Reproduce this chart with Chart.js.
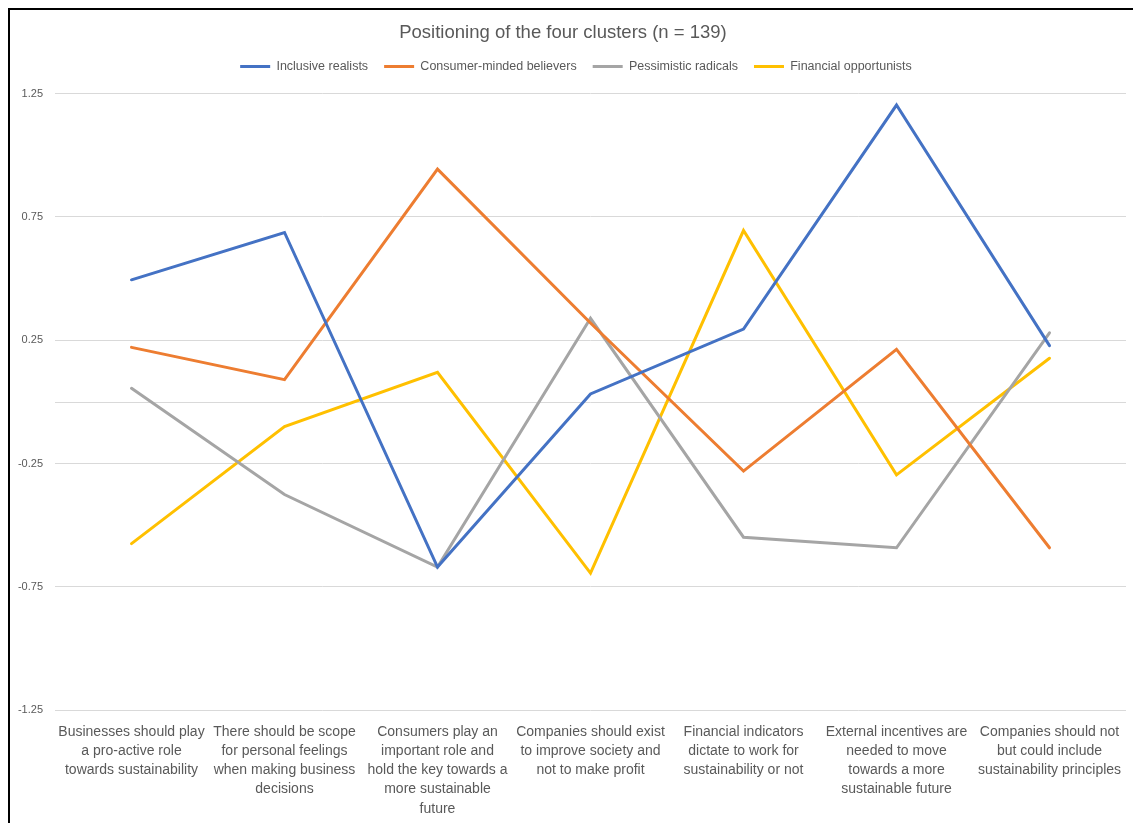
<!DOCTYPE html>
<html>
<head>
<meta charset="utf-8">
<script src="https://cdn.jsdelivr.net/npm/chart.js@4.4.0/dist/chart.umd.min.js"></script>
<style>
  html, body { margin: 0; padding: 0; background: #fff; overflow: hidden; }
  #frame { position: absolute; left: 8px; top: 8px; width: 1140px; height: 840px; border: 2px solid #000; box-sizing: border-box; }
  #chart { position: absolute; left: 0; top: 0; }
</style>
</head>
<body>
<div id="frame"></div>
<canvas id="chart" width="1133" height="823"></canvas>
<script>
const categories = [
  ['Businesses should play', 'a pro-active role', 'towards sustainability'],
  ['There should be scope', 'for personal feelings', 'when making business', 'decisions'],
  ['Consumers play an', 'important role and', 'hold the key towards a', 'more sustainable', 'future'],
  ['Companies should exist', 'to improve society and', 'not to make profit'],
  ['Financial indicators', 'dictate to work for', 'sustainability or not'],
  ['External incentives are', 'needed to move', 'towards a more', 'sustainable future'],
  ['Companies should not', 'but could include', 'sustainability principles']
];

const inclusiveRealists = [0.495, 0.687, -0.670, 0.032, 0.295, 1.204, 0.228];
const consumerMinded = [0.221, 0.090, 0.944, 0.320, -0.281, 0.213, -0.592];
const pessimisticRadicals = [0.055, -0.376, -0.670, 0.339, -0.549, -0.592, 0.280];
const financialOpportunists = [-0.575, -0.100, 0.120, -0.695, 0.695, -0.296, 0.177];

const yMin = -1.25;
const yMax = 1.25;
const yStep = 0.5;

const FONT = '"Liberation Sans", Arial, sans-serif';
const TEXT = '#595959';

// Excel draws the horizontal axis line at 0
const zeroLine = {
  id: 'zeroLine',
  beforeDatasetsDraw(chart) {
    const { ctx, chartArea, scales } = chart;
    const y = Math.round(scales.y.getPixelForValue(0)) + 0.5;
    ctx.save();
    ctx.strokeStyle = '#d9d9d9';
    ctx.lineWidth = 1;
    ctx.beginPath();
    ctx.moveTo(chartArea.left, y);
    ctx.lineTo(chartArea.right, y);
    ctx.stroke();
    ctx.restore();
  }
};

// a bit more room under the legend, and nudge it right like the original
const legendTweak = {
  id: 'legendTweak',
  afterInit(chart) {
    const lg = chart.legend;
    const fit = lg.fit;
    lg.fit = function () { fit.call(this); this.height += 11; };
    const draw = lg.draw;
    lg.draw = function () {
      this.ctx.save();
      this.ctx.translate(13, 0);
      draw.call(this);
      this.ctx.restore();
    };
  }
};

function series(label, data, color) {
  return {
    label: label,
    data: data,
    borderColor: color,
    backgroundColor: color,
    borderWidth: 3,
    borderCapStyle: 'round',
    borderJoinStyle: 'miter',
    tension: 0,
    pointRadius: 0,
    pointHoverRadius: 0
  };
}

new Chart(document.getElementById('chart'), {
  type: 'line',
  data: {
    labels: categories,
    datasets: [
      series('Inclusive realists', inclusiveRealists, '#4472C4'),
      series('Consumer-minded believers', consumerMinded, '#ED7D31'),
      series('Pessimistic radicals', pessimisticRadicals, '#A5A5A5'),
      series('Financial opportunists', financialOpportunists, '#FFC000')
    ]
  },
  options: {
    responsive: false,
    animation: false,
    layout: { padding: { left: 0, right: 7, top: 0, bottom: 0 } },
    plugins: {
      title: {
        display: true,
        text: 'Positioning of the four clusters (n = 139)',
        color: TEXT,
        font: { family: FONT, size: 18.5, weight: 'normal' },
        padding: { top: 22, bottom: 0 }
      },
      legend: {
        display: true,
        labels: {
          color: TEXT,
          font: { family: FONT, size: 12.5 },
          usePointStyle: true,
          pointStyle: 'line',
          pointStyleWidth: 30,
          padding: 16
        }
      },
      tooltip: { enabled: false }
    },
    scales: {
      x: {
        offset: true,
        grid: { display: false },
        border: { display: false },
        ticks: {
          color: TEXT,
          font: { family: FONT, size: 14, lineHeight: 1.36 },
          padding: 5,
          maxRotation: 0,
          autoSkip: false
        },
        afterFit(scale) { scale.height = 113; }
      },
      y: {
        min: yMin,
        max: yMax,
        grid: { color: '#d9d9d9', drawTicks: false },
        border: { display: false },
        ticks: {
          stepSize: yStep,
          color: TEXT,
          font: { family: FONT, size: 11 },
          padding: 12,
          callback: v => v.toFixed(2)
        },
        afterFit(scale) { scale.width = 55; }
      }
    }
  },
  plugins: [zeroLine, legendTweak]
});
</script>
</body>
</html>
